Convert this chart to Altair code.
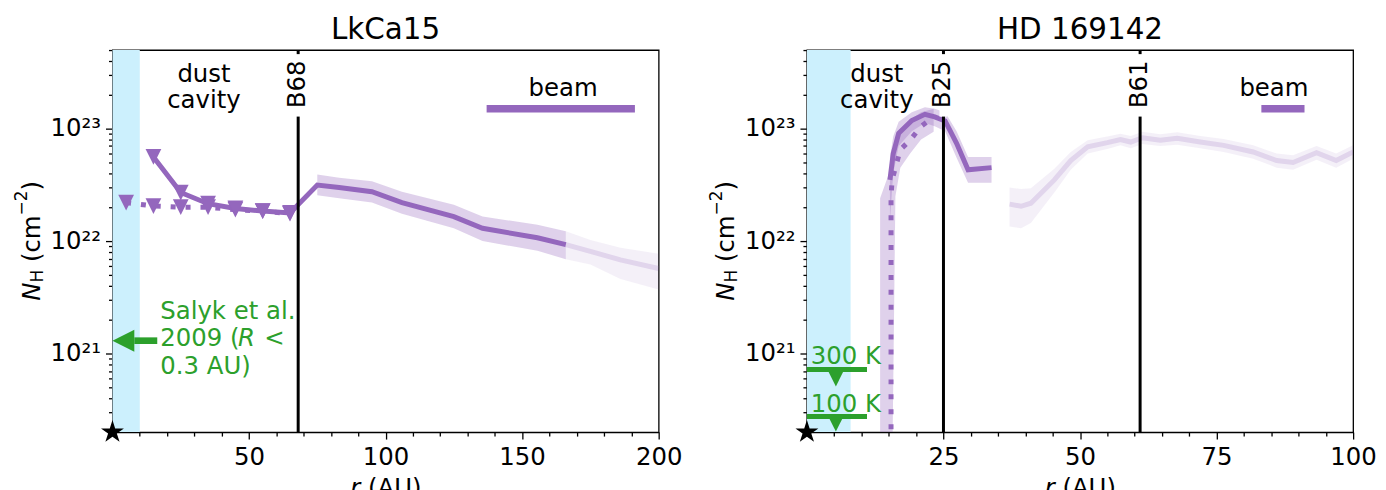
import altair as alt
import pandas as pd

FONT = "DejaVu Sans"
FS = 24.5
FS_SCRIPT = 17
FS_TITLE = 29.5
PURPLE = "#9467bd"
GREEN = "#2ca02c"
CAVITY_BLUE = "#ccf0fd"
W, H = 549, 384

# ---------------- shared y axis ----------------
y_domain = [2e20, 5e23]
y_ticks = [2e20, 3e20, 4e20, 5e20, 6e20, 7e20, 8e20, 9e20,
           1e21, 2e21, 3e21, 4e21, 5e21, 6e21, 7e21, 8e21, 9e21,
           1e22, 2e22, 3e22, 4e22, 5e22, 6e22, 7e22, 8e22, 9e22,
           1e23, 2e23, 3e23, 4e23, 5e23]
y_major = [1e21, 1e22, 1e23]
y_major_labels = ["10²¹", "10²²", "10²³"]

# annotation heights (N_H units)
ring_label_nh = 2.48e23
ring_gap_nh = [4.6e23, 1.28e23]
cavity_text_nh = 2.6e23
beam_nh = 1.5e23
beam_text_nh = 1.96e23
star_r = [0]
star_nh = [2e20]

# ---------------- LkCa15 ----------------
lk_xmax = 200
lk_xticks = [10, 20, 30, 40, 50, 60, 70, 80, 90, 100, 110, 120, 130, 140, 150, 160, 170, 180, 190, 200]
lk_xmajor = 50
lk_cavity = [0, 10]
lk_cavity_text_r = 33.5
lk_rings = [68]
lk_ring_labels = ["B68"]
lk_beam = [137, 191.3]
lk_beam_text_r = 165

lk_solid_r = [15, 25, 35, 45, 55, 65, 75, 83, 95, 106, 125, 135.5, 155.6, 166]
lk_solid_nh = [5.6e22, 2.7e22, 2.15e22, 1.95e22, 1.85e22, 1.78e22, 3.15e22, 3.0e22,
               2.75e22, 2.2e22, 1.65e22, 1.3e22, 1.07e22, 9.3e21]
lk_tri_r = [15, 25, 35, 45, 55, 65]
lk_tri_nh = [5.6e22, 2.7e22, 2.15e22, 1.95e22, 1.85e22, 1.78e22]
lk_dot_r = [5, 15, 25, 35, 45, 55, 65]
lk_dot_nh = [2.2e22, 2.05e22, 2.0e22, 2.0e22, 1.9e22, 1.85e22, 1.75e22]
lk_band_r = [75, 83, 95, 106, 125, 135.5, 155.6, 166]
lk_band_lo = [2.55e22, 2.4e22, 2.2e22, 1.75e22, 1.3e22, 1.0e22, 8.2e21, 6.9e21]
lk_band_hi = [3.9e22, 3.65e22, 3.4e22, 2.75e22, 2.1e22, 1.65e22, 1.4e22, 1.22e22]
lk_fade_r = [166, 175, 186, 200]
lk_fade_nh = [9.3e21, 8.1e21, 6.8e21, 5.7e21]
lk_fade_lo = [6.9e21, 6.2e21, 4.6e21, 3.7e21]
lk_fade_hi = [1.22e22, 1.02e22, 8.7e21, 7.7e21]

salyk_nh = 1.3e21
salyk_shaft_r = [8, 16.4]
salyk_head_r = 4
salyk_text_r = 17.5
salyk_lines = ["Salyk et al.", "2009 (", "0.3 AU)"]
salyk_line_nh = [2.04e21, 1.17e21, 6.6e20]
salyk_R_r = 46.0
salyk_lt_r = 55.6

# ---------------- HD 169142 ----------------
hd_xmax = 100
hd_xticks = [5, 10, 15, 20, 25, 30, 35, 40, 45, 50, 55, 60, 65, 70, 75, 80, 85, 90, 95, 100]
hd_xmajor = 25
hd_cavity = [0, 8]
hd_cavity_text_r = 12.8
hd_rings = [25, 61]
hd_ring_labels = ["B25", "B61"]
hd_beam = [83.2, 91.1]
hd_beam_text_r = 85.5

hd_solid_r = [15.2, 15.8, 16.8, 19.2, 21.6, 23.4, 25.3, 27.4, 29.5, 33.8]
hd_solid_nh = [3.5e22, 6.0e22, 9.1e22, 1.18e23, 1.34e23, 1.27e23, 1.17e23, 7.4e22, 4.3e22, 4.5e22]
hd_solid_lo = [1.5e22, 4.0e22, 7.0e22, 9.5e22, 1.12e23, 1.05e23, 9.5e22, 5.5e22, 3.3e22, 3.3e22]
hd_solid_hi = [5.5e22, 8.5e22, 1.15e23, 1.4e23, 1.55e23, 1.5e23, 1.4e23, 9.5e22, 5.6e22, 5.6e22]
hd_dot_r = [15.4, 15.4, 15.6, 17.1, 18.9, 20.9, 22.8]
hd_dot_nh = [1e19, 2.5e22, 3.5e22, 6.5e22, 7.9e22, 1.05e23, 1.23e23]
hd_dotband_r = [13.4, 15.4, 16.2, 17.1, 18.9, 20.9, 23.2]
hd_dotband_lo = [1e19, 1e19, 2.5e22, 4.5e22, 6.0e22, 8.0e22, 9.4e22]
hd_dotband_hi = [2.4e22, 4.5e22, 7.5e22, 1.0e23, 1.2e23, 1.4e23, 1.5e23]
hd_fade_r = [37.1, 39.2, 41, 45.3, 48.3, 51.4, 55, 57.4, 59.3, 61.4, 64.7, 67.8, 72,
             76.3, 81.7, 86, 89, 93.3, 96.9, 100]
hd_fade_nh = [2.13e22, 2.04e22, 2.17e22, 3.5e22, 5.2e22, 6.9e22, 7.5e22, 8.0e22, 7.6e22, 8.3e22,
              7.9e22, 8.2e22, 7.6e22, 7.1e22, 6.2e22, 5.2e22, 5.0e22, 6.1e22, 5.2e22, 6.2e22]
hd_fade_lo = [1.35e22, 1.3e22, 1.45e22, 2.7e22, 4.3e22, 6.0e22, 6.6e22, 7.1e22, 6.7e22, 7.3e22,
              7.0e22, 7.2e22, 6.7e22, 6.2e22, 5.4e22, 4.5e22, 4.3e22, 5.3e22, 4.5e22, 5.4e22]
hd_fade_hi = [3.0e22, 2.9e22, 2.95e22, 4.4e22, 6.2e22, 7.9e22, 8.5e22, 9.0e22, 8.6e22, 9.4e22,
              8.9e22, 9.3e22, 8.6e22, 8.1e22, 7.1e22, 6.0e22, 5.8e22, 7.0e22, 6.0e22, 7.1e22]

hd_lim_labels = ["300 K", "100 K"]
hd_lim_nh = [7.2e20, 2.75e20]
hd_lim_bar_r = [0, 11]
hd_lim_tri_r = 5.3
hd_lim_tri_nh = [6.0e20, 2.38e20]
hd_lim_text_r = 0.7
hd_lim_text_nh = [8.0e20, 3.0e20]

TRI_DOWN = "M-1,-1L1,-1L0,1Z"
TRI_LEFT = "M-1,0L1,-1L1,1Z"
STAR = ("M0,-1L0.2245,-0.309L0.951,-0.309L0.363,0.118L0.588,0.809L0,0.382"
        "L-0.588,0.809L-0.363,0.118L-0.951,-0.309L-0.2245,-0.309Z")

one = alt.Data(values=[{}])


def px_text(text, px, py, size=FS, angle=0, italic=False, align="left"):
    kw = dict(text=text, font=FONT, fontSize=size, align=align, baseline="alphabetic", color="black")
    if angle:
        kw["angle"] = angle
    if italic:
        kw["fontStyle"] = "italic"
    return alt.Chart(one).mark_text(**kw).encode(x=alt.value(px), y=alt.value(py))


def axis_titles(title):
    bx, sub_x, sup_x = -73, -70, -85.5
    return [
        # panel title
        px_text(title, W / 2, -11, size=FS_TITLE, align="center"),
        # y title  N_H (cm^-2), reading upwards
        px_text("N", bx, 252, italic=True, angle=270),
        px_text("H", sub_x, 233.7, size=FS_SCRIPT, angle=270),
        px_text("(cm", bx, 213.1, angle=270),
        px_text("−2", sup_x, 166.2, size=FS_SCRIPT, angle=270),
        px_text(")", bx, 141.2, angle=270),
        # x title  r (AU)
        px_text("r", 239, 448, italic=True),
        px_text("(AU)", 256.8, 448),
    ]


def make_panel(P, title):
    xs = alt.Scale(domain=[0, P["xmax"]], nice=False, zero=False)
    ys = alt.Scale(type="log", domain=y_domain, nice=False)
    xtest = f"datum.value % {P['xmajor']} === 0"
    xa = alt.Axis(values=P["xticks"], labelExpr=f"({xtest}) ? format(datum.value, 'd') : ''",
                  tickSize={"condition": {"test": xtest, "value": 7}, "value": 4},
                  labelFont=FONT, labelFontSize=FS, labelColor="black", labelPadding=7,
                  labelFlush=False, labelOverlap=False, tickColor="black", tickWidth=1.3,
                  domainColor="black", domainWidth=1.3, grid=False)
    ytest = " || ".join(f"datum.value === {v!r}" for v in y_major)
    yexpr = "''"
    for v, lab in reversed(list(zip(y_major, y_major_labels))):
        yexpr = f"datum.value === {v!r} ? '{lab}' : ({yexpr})"
    ya = alt.Axis(values=y_ticks, labelExpr=yexpr,
                  tickSize={"condition": {"test": ytest, "value": 7}, "value": 4},
                  labelFont=FONT, labelFontSize=FS, labelColor="black", labelPadding=5,
                  labelFlush=False, labelOverlap=False, labelBaseline="middle",
                  tickColor="black", tickWidth=1.3,
                  domainColor="black", domainWidth=1.3, grid=False)

    def X(f):
        return alt.X(f, type="quantitative", scale=xs, axis=xa, title=None)

    def Y(f):
        return alt.Y(f, type="quantitative", scale=ys, axis=ya, title=None)

    L = []
    # cavity shading
    L.append(alt.Chart(pd.DataFrame({"r": [P["cavity"][0]], "r2": [P["cavity"][1]]}))
             .mark_rect(color=CAVITY_BLUE)
             .encode(x=X("r"), x2="r2", y=alt.value(0), y2=alt.value(H)))
    # uncertainty bands
    for (r, lo, hi, op) in P["bands"]:
        L.append(alt.Chart(pd.DataFrame({"r": r, "lo": lo, "hi": hi}))
                 .mark_area(color=PURPLE, fillOpacity=op, opacity=1, clip=True, orient="vertical")
                 .encode(x=X("r"), y=Y("lo"), y2=alt.Y2("hi")))
    # lines
    for (r, nh, op, dash) in P["lines"]:
        kw = dict(color=PURPLE, strokeWidth=5, opacity=op, clip=True, strokeCap="butt")
        if dash:
            kw["strokeDash"] = [5, 10]
        L.append(alt.Chart(pd.DataFrame({"r": r, "nh": nh, "i": list(range(len(r)))}))
                 .mark_line(**kw)
                 .encode(x=X("r"), y=Y("nh"), order="i:Q"))
    # triangles
    for (r, nh) in P["tris"]:
        L.append(alt.Chart(pd.DataFrame({"r": r, "nh": nh}))
                 .mark_point(shape=TRI_DOWN, filled=True, size=250, color=PURPLE, opacity=1, strokeWidth=0)
                 .encode(x=X("r"), y=Y("nh")))
    # ring lines
    rings = pd.DataFrame({"r": P["rings"], "lab": P["ring_labels"],
                          "top": ring_gap_nh[0], "bot": ring_gap_nh[1], "ly": ring_label_nh})
    L.append(alt.Chart(rings).mark_rule(color="black", strokeWidth=3)
             .encode(x=X("r"), y=alt.value(0), y2=alt.value(H)))
    L.append(alt.Chart(rings).mark_rule(color="white", strokeWidth=8)
             .encode(x=X("r"), y=Y("top"), y2=alt.Y2("bot")))
    L.append(alt.Chart(rings).mark_text(font=FONT, fontSize=FS, angle=270, align="center",
                                        baseline="middle", color="black")
             .encode(x=X("r"), y=Y("ly"), text="lab:N"))
    # dust cavity
    L.append(alt.Chart(pd.DataFrame({"r": [P["cavity_text_r"]], "nh": [cavity_text_nh],
                                     "t": ["dust\ncavity"]}))
             .mark_text(font=FONT, fontSize=FS, align="center", baseline="alphabetic",
                        lineBreak="\n", lineHeight=26, color="black")
             .encode(x=X("r"), y=Y("nh"), text="t:N"))
    # beam
    L.append(alt.Chart(pd.DataFrame({"r": [P["beam"][0]], "r2": [P["beam"][1]], "nh": [beam_nh]}))
             .mark_rule(color=PURPLE, strokeWidth=7.5)
             .encode(x=X("r"), x2=alt.X2("r2"), y=Y("nh")))
    L.append(alt.Chart(pd.DataFrame({"r": [P["beam_text_r"]], "nh": [beam_text_nh], "t": ["beam"]}))
             .mark_text(font=FONT, fontSize=FS, align="center", baseline="alphabetic", color="black")
             .encode(x=X("r"), y=Y("nh"), text="t:N"))
    # green annotations
    L.extend(P["green"](X, Y))
    # star
    L.append(alt.Chart(pd.DataFrame({"r": star_r, "nh": star_nh}))
             .mark_point(shape=STAR, filled=True, size=585, color="black", opacity=1, strokeWidth=0)
             .encode(x=X("r"), y=Y("nh")))
    L.extend(axis_titles(title))
    return alt.layer(*L).properties(width=W, height=H)


def lk_green(X, Y):
    out = []
    out.append(alt.Chart(pd.DataFrame({"r": [salyk_shaft_r[0]], "r2": [salyk_shaft_r[1]], "nh": [salyk_nh]}))
               .mark_rule(color=GREEN, strokeWidth=6.7)
               .encode(x=X("r"), x2=alt.X2("r2"), y=Y("nh")))
    out.append(alt.Chart(pd.DataFrame({"r": [salyk_head_r], "nh": [salyk_nh]}))
               .mark_point(shape=TRI_LEFT, filled=True, size=484, color=GREEN, opacity=1, strokeWidth=0)
               .encode(x=X("r"), y=Y("nh")))
    out.append(alt.Chart(pd.DataFrame({"r": salyk_text_r, "nh": salyk_line_nh, "t": salyk_lines}))
               .mark_text(font=FONT, fontSize=FS, align="left", baseline="alphabetic", color=GREEN)
               .encode(x=X("r"), y=Y("nh"), text="t:N"))
    out.append(alt.Chart(pd.DataFrame({"r": [salyk_R_r], "nh": [salyk_line_nh[1]], "t": ["R"]}))
               .mark_text(font=FONT, fontSize=FS, fontStyle="italic", align="left",
                          baseline="alphabetic", color=GREEN)
               .encode(x=X("r"), y=Y("nh"), text="t:N"))
    out.append(alt.Chart(pd.DataFrame({"r": [salyk_lt_r], "nh": [salyk_line_nh[1]], "t": ["<"]}))
               .mark_text(font=FONT, fontSize=FS, align="left", baseline="alphabetic", color=GREEN)
               .encode(x=X("r"), y=Y("nh"), text="t:N"))
    return out


def hd_green(X, Y):
    out = []
    out.append(alt.Chart(pd.DataFrame({"r": hd_lim_bar_r[0], "r2": hd_lim_bar_r[1], "nh": hd_lim_nh}))
               .mark_rule(color=GREEN, strokeWidth=5)
               .encode(x=X("r"), x2=alt.X2("r2"), y=Y("nh")))
    out.append(alt.Chart(pd.DataFrame({"r": hd_lim_tri_r, "nh": hd_lim_tri_nh}))
               .mark_point(shape=TRI_DOWN, filled=True, size=256, color=GREEN, opacity=1, strokeWidth=0)
               .encode(x=X("r"), y=Y("nh")))
    out.append(alt.Chart(pd.DataFrame({"r": hd_lim_text_r, "nh": hd_lim_text_nh, "t": hd_lim_labels}))
               .mark_text(font=FONT, fontSize=FS, align="left", baseline="alphabetic", color=GREEN)
               .encode(x=X("r"), y=Y("nh"), text="t:N"))
    return out


LK = dict(xmax=lk_xmax, xticks=lk_xticks, xmajor=lk_xmajor, cavity=lk_cavity,
          cavity_text_r=lk_cavity_text_r, rings=lk_rings, ring_labels=lk_ring_labels,
          beam=lk_beam, beam_text_r=lk_beam_text_r,
          bands=[(lk_band_r, lk_band_lo, lk_band_hi, 0.3), (lk_fade_r, lk_fade_lo, lk_fade_hi, 0.1)],
          lines=[(lk_fade_r, lk_fade_nh, 0.2, False), (lk_solid_r, lk_solid_nh, 1, False),
                 (lk_dot_r, lk_dot_nh, 1, True)],
          tris=[(lk_dot_r, lk_dot_nh), (lk_tri_r, lk_tri_nh)],
          green=lk_green)

HD = dict(xmax=hd_xmax, xticks=hd_xticks, xmajor=hd_xmajor, cavity=hd_cavity,
          cavity_text_r=hd_cavity_text_r, rings=hd_rings, ring_labels=hd_ring_labels,
          beam=hd_beam, beam_text_r=hd_beam_text_r,
          bands=[(hd_dotband_r, hd_dotband_lo, hd_dotband_hi, 0.3),
                 (hd_solid_r, hd_solid_lo, hd_solid_hi, 0.3),
                 (hd_fade_r, hd_fade_lo, hd_fade_hi, 0.1)],
          lines=[(hd_fade_r, hd_fade_nh, 0.2, False), (hd_solid_r, hd_solid_nh, 1, False),
                 (hd_dot_r, hd_dot_nh, 1, True)],
          tris=[],
          green=hd_green)

chart = alt.hconcat(make_panel(LK, "LkCa15"), make_panel(HD, "HD 169142"), spacing=23).properties(
    padding={"left": 4, "top": 5, "right": 0, "bottom": 0}
).configure_view(stroke="black", strokeWidth=1.3)

chart.save("out.html", embed_options={"renderer": "svg", "actions": False})
